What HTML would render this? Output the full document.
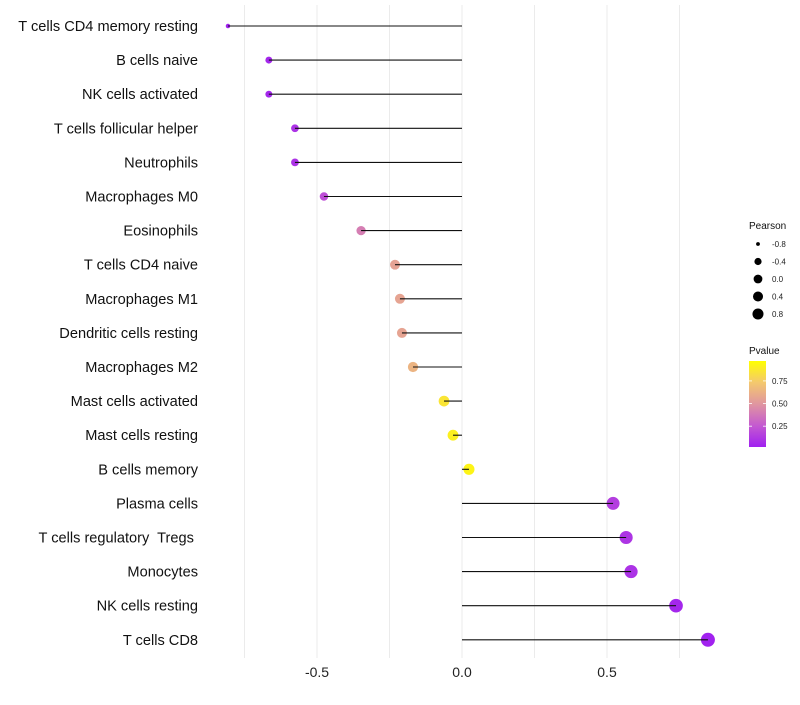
<!DOCTYPE html>
<html><head><meta charset="utf-8"><style>
body{margin:0;background:#fff;font-family:"Liberation Sans",sans-serif}
svg text{font-family:"Liberation Sans",sans-serif;white-space:pre}
</style></head><body>
<svg id="chart" width="800" height="700"></svg>
<script>
const categories=["T cells CD4 memory resting","B cells naive","NK cells activated","T cells follicular helper","Neutrophils","Macrophages M0","Eosinophils","T cells CD4 naive","Macrophages M1","Dendritic cells resting","Macrophages M2","Mast cells activated","Mast cells resting","B cells memory","Plasma cells","T cells regulatory  Tregs ","Monocytes","NK cells resting","T cells CD8"];
const pearson=[-0.807,-0.666,-0.666,-0.576,-0.576,-0.476,-0.348,-0.231,-0.214,-0.207,-0.169,-0.062,-0.031,0.024,0.521,0.566,0.583,0.738,0.848];
const pvalue=[0.01,0.03,0.03,0.08,0.08,0.2,0.4,0.56,0.57,0.57,0.65,0.88,0.93,0.95,0.13,0.09,0.08,0.03,0.01];
const xTicks=[-0.5,0,0.5];
const xTickLabels=["-0.5","0.0","0.5"];
const xGrid=[-0.75,-0.5,-0.25,0,0.25,0.5,0.75];
const sizeLegend=[-0.8,-0.4,0.0,0.4,0.8];
const pLegend=[0.25,0.5,0.75];

const NS="http://www.w3.org/2000/svg";
const svg=document.getElementById('chart');
const X=v=>462+v*290;
const Y=i=>26+i*34.1;
const R=v=>2+5*Math.sqrt(Math.max(0,(v+0.81)/1.66));
function col(p){
  const stops=[[0,[160,32,240]],[0.25,[196,90,208]],[0.5,[224,150,160]],[0.75,[244,200,110]],[1,[255,255,0]]];
  for(let k=1;k<stops.length;k++){if(p<=stops[k][0]){const a=stops[k-1],b=stops[k];const t=(p-a[0])/(b[0]-a[0]);return 'rgb('+a[1].map((c,j)=>Math.round(c+(b[1][j]-c)*t)).join(',')+')';}}
  return 'rgb(255,255,0)';
}
function mk(tag,attrs,parent){const e=document.createElementNS(NS,tag);for(const k in attrs)e.setAttribute(k,attrs[k]);(parent||svg).appendChild(e);return e;}

xGrid.forEach(v=>{
  const g=mk('line',{x1:X(v),x2:X(v),y1:5,y2:658,stroke:'#ebebeb','stroke-width':1});
  
  
});
xTicks.forEach((v,i)=>{
  const t=mk('text',{x:X(v),y:677,'text-anchor':'middle','font-size':14,fill:'#222'});
  t.textContent=xTickLabels[i];
  
  
});
categories.forEach((c,i)=>{
  const t=mk('text',{x:198,y:Y(i)+5,'text-anchor':'end','font-size':14.6,fill:'#111'});
  t.textContent=c;
  
  
  const p=mk('circle',{cx:X(pearson[i]),cy:Y(i),r:R(pearson[i]),fill:col(pvalue[i])});
  
  
  const l=mk('line',{x1:X(0),x2:X(pearson[i]),y1:Y(i),y2:Y(i),stroke:'#111','stroke-width':1.1});
  
  
});
// size legend
let lt=mk('text',{x:749,y:229,'font-size':10,fill:'#111'});lt.textContent='Pearson';


sizeLegend.forEach((v,i)=>{
  const y=244+i*17.5;
  const c=mk('circle',{cx:758,cy:y,r:R(v)*0.8,fill:'#000'});
  
  
  const t=mk('text',{x:772,y:y+3,'font-size':8,fill:'#222'});t.textContent=v.toFixed(1);
  
  
});
// color legend
let ct=mk('text',{x:749,y:354,'font-size':10,fill:'#111'});ct.textContent='Pvalue';


const defs=mk('defs',{});
const grad=mk('linearGradient',{id:'pg',x1:0,y1:1,x2:0,y2:0},defs);
[0,0.25,0.5,0.75,1].forEach(s=>mk('stop',{offset:s,'stop-color':col(s)},grad));
const bar=mk('rect',{x:749,y:361,width:17,height:86,fill:'url(#pg)'});


const PY=p=>447-(p-0.02)/0.95*86;
pLegend.forEach(p=>{
  mk('line',{x1:749,x2:752,y1:PY(p),y2:PY(p),stroke:'#fff','stroke-width':0.8});
  mk('line',{x1:763,x2:766,y1:PY(p),y2:PY(p),stroke:'#fff','stroke-width':0.8});
  const t=mk('text',{x:772,y:PY(p)+3,'font-size':8,fill:'#222'});t.textContent=p.toFixed(2);
  
  
});
</script>
</body></html>
